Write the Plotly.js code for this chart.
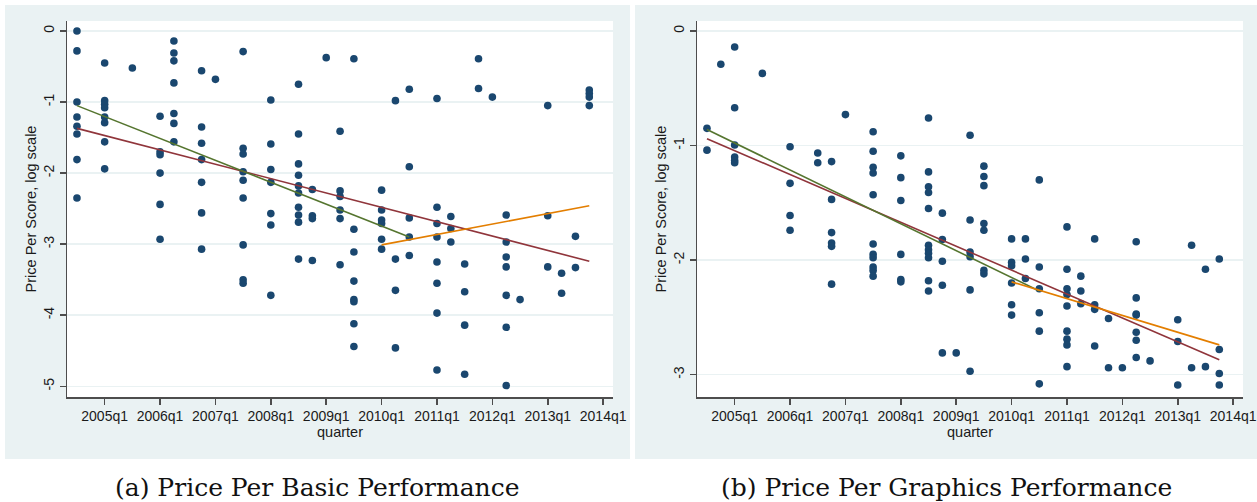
<!DOCTYPE html>
<html>
<head>
<meta charset="utf-8">
<script src="https://cdn.plot.ly/plotly-3.0.1.min.js"></script>
<style>
  html, body { margin: 0; padding: 0; background: #ffffff; }
  #chart { width: 1257px; height: 502px; }
</style>
</head>
<body>
<div id="chart"></div>
<script>
// Quarter tick labels shared by both panels
const quarterTicks = ['2005q1', '2006q1', '2007q1', '2008q1', '2009q1',
                      '2010q1', '2011q1', '2012q1', '2013q1', '2014q1'];

// (a) Price per basic performance score (log scale), grouped by quarter
const basicQuarters = ['2004q3', '2005q1', '2005q3', '2006q1', '2006q2', '2006q4',
  '2007q1', '2007q3', '2008q1', '2008q3', '2008q4', '2009q1', '2009q2', '2009q3',
  '2010q1', '2010q2', '2010q3', '2011q1', '2011q2', '2011q3', '2011q4', '2012q1',
  '2012q2', '2012q3', '2013q1', '2013q2', '2013q3', '2013q4'];
const basicValues = [
  [0.0, -0.28, -1.0, -1.21, -1.34, -1.45, -1.81, -2.35],
  [-0.45, -0.98, -1.03, -1.08, -1.21, -1.29, -1.56, -1.94],
  [-0.52],
  [-1.20, -1.70, -1.74, -2.00, -2.44, -2.93],
  [-0.14, -0.31, -0.42, -0.73, -1.16, -1.30, -1.56],
  [-0.56, -1.35, -1.58, -1.81, -2.13, -2.56, -3.07],
  [-0.68],
  [-0.29, -1.65, -1.73, -1.98, -2.10, -2.35, -3.01, -3.50, -3.55],
  [-0.97, -1.59, -1.95, -2.13, -2.57, -2.73, -3.72],
  [-0.75, -1.45, -1.87, -2.03, -2.18, -2.28, -2.48, -2.59, -2.69, -3.21],
  [-2.23, -2.60, -2.64, -3.23],
  [-0.375],
  [-1.41, -2.25, -2.33, -2.52, -2.64, -3.29],
  [-0.39, -2.79, -3.11, -3.52, -3.78, -3.81, -4.12, -4.44],
  [-2.24, -2.52, -2.66, -2.71, -2.93, -3.07],
  [-0.98, -3.21, -3.65, -4.46],
  [-0.82, -1.91, -2.63, -2.90, -3.16],
  [-0.95, -2.48, -2.71, -2.90, -3.25, -3.55, -3.97, -4.77],
  [-2.61, -2.78, -2.97],
  [-3.28, -3.67, -4.14, -4.83],
  [-0.39, -0.81],
  [-0.93],
  [-2.59, -2.97, -3.18, -3.32, -3.72, -4.17, -4.99],
  [-3.78],
  [-1.05, -2.60, -3.32],
  [-3.41, -3.69],
  [-2.89, -3.33],
  [-0.83, -0.88, -0.93, -1.05]
];

// (b) Price per graphics performance score (log scale), grouped by quarter
const graphicsQuarters = ['2004q3', '2004q4', '2005q1', '2005q3', '2006q1', '2006q3',
  '2006q4', '2007q1', '2007q3', '2008q1', '2008q3', '2008q4', '2009q1', '2009q2',
  '2009q3', '2010q1', '2010q2', '2010q3', '2011q1', '2011q2', '2011q3', '2011q4',
  '2012q1', '2012q2', '2012q3', '2013q1', '2013q2', '2013q3', '2013q4'];
const graphicsValues = [
  [-0.85, -1.04],
  [-0.29],
  [-0.14, -0.67, -0.995, -1.10, -1.13, -1.15],
  [-0.37],
  [-1.01, -1.33, -1.61, -1.74],
  [-1.065, -1.15],
  [-1.14, -1.47, -1.76, -1.85, -1.88, -2.21],
  [-0.73],
  [-0.88, -1.05, -1.19, -1.24, -1.43, -1.86, -1.95, -1.98, -2.06, -2.09, -2.14],
  [-1.09, -1.28, -1.48, -1.95, -2.17, -2.19],
  [-0.76, -1.23, -1.36, -1.41, -1.55, -1.87, -1.91, -1.94, -1.98, -2.18, -2.27],
  [-1.59, -1.82, -2.01, -2.22, -2.81],
  [-2.81],
  [-0.91, -1.65, -1.93, -1.97, -2.26, -2.97],
  [-1.18, -1.27, -1.35, -1.68, -1.74, -2.09, -2.12],
  [-1.815, -2.02, -2.05, -2.20, -2.39, -2.48],
  [-1.815, -1.99, -2.16],
  [-1.30, -2.06, -2.25, -2.46, -2.62, -3.08],
  [-1.71, -2.08, -2.25, -2.30, -2.40, -2.62, -2.69, -2.74, -2.93],
  [-2.14, -2.27, -2.38],
  [-1.815, -2.39, -2.43, -2.75],
  [-2.51, -2.94],
  [-2.94],
  [-1.84, -2.33, -2.47, -2.48, -2.63, -2.70, -2.85],
  [-2.88],
  [-2.52, -2.71, -3.09],
  [-1.87, -2.94],
  [-2.08, -2.93],
  [-1.99, -2.78, -2.99, -3.09]
];

// Linear fits: whole period, 2004q3-2010q3 and 2010q1-2013q4 (end points)
const fitAllQuarters = ['2004q3', '2013q4'];
const fitEarlyQuarters = ['2004q3', '2010q3'];
const fitLateQuarters = ['2010q1', '2013q4'];
const basicFitAll = [-1.37, -3.24];
const basicFitEarly = [-1.05, -2.90];
const basicFitLate = [-3.01, -2.46];
const graphicsFitAll = [-0.94, -2.87];
const graphicsFitEarly = [-0.86, -2.27];
const graphicsFitLate = [-2.19, -2.74];

// Stata s2color palette
const NAVY = '#1a476f', MAROON = '#90353b', FOREST = '#55752f', ORANGE = '#e37e00';
const PANEL_BG = '#eaf2f3', AXIS_COLOR = '#4d4d4d', TEXT_COLOR = '#1a1a1a';

// "2007q3" -> 2007.5
function quarterToNumber(label) {
  const parts = label.split('q');
  return Number(parts[0]) + (Number(parts[1]) - 1) / 4;
}

function expand(quarters, values) {
  const x = [], y = [];
  quarters.forEach((q, i) => values[i].forEach(v => { x.push(quarterToNumber(q)); y.push(v); }));
  return { x, y };
}

const W = 1257, H = 502;
const px = v => v / W;
const py = v => 1 - v / H;

function scatterTrace(quarters, values, xa, ya) {
  const pts = expand(quarters, values);
  return {
    type: 'scatter', mode: 'markers', x: pts.x, y: pts.y, xaxis: xa, yaxis: ya,
    marker: { color: NAVY, size: 7.6, line: { width: 0 } },
    hoverinfo: 'x+y', showlegend: false
  };
}

function fitTrace(quarters, values, color, xa, ya) {
  return {
    type: 'scatter', mode: 'lines', x: quarters.map(quarterToNumber), y: values,
    xaxis: xa, yaxis: ya, line: { color: color, width: 1.6 },
    hoverinfo: 'skip', showlegend: false
  };
}

const data = [
  scatterTrace(basicQuarters, basicValues, 'x', 'y'),
  fitTrace(fitAllQuarters, basicFitAll, MAROON, 'x', 'y'),
  fitTrace(fitEarlyQuarters, basicFitEarly, FOREST, 'x', 'y'),
  fitTrace(fitLateQuarters, basicFitLate, ORANGE, 'x', 'y'),
  scatterTrace(graphicsQuarters, graphicsValues, 'x2', 'y2'),
  fitTrace(fitAllQuarters, graphicsFitAll, MAROON, 'x2', 'y2'),
  fitTrace(fitEarlyQuarters, graphicsFitEarly, FOREST, 'x2', 'y2'),
  fitTrace(fitLateQuarters, graphicsFitLate, ORANGE, 'x2', 'y2')
];

const tickFont = { family: 'Liberation Sans, Arial, sans-serif', size: 14, color: TEXT_COLOR };
const titleFont = { family: 'Liberation Sans, Arial, sans-serif', size: 14.5, color: TEXT_COLOR };

function xAxis(domain, anchor) {
  return {
    domain: domain, anchor: anchor, range: [2004.32, 2014.178],
    tickmode: 'array', tickvals: quarterTicks.map(quarterToNumber), ticktext: quarterTicks,
    ticks: 'outside', ticklen: 6, tickwidth: 1.5, tickcolor: AXIS_COLOR,
    showline: true, linecolor: AXIS_COLOR, linewidth: 1.5,
    showgrid: false, zeroline: false, tickfont: tickFont,
    title: { text: 'quarter', font: titleFont, standoff: 2 }
  };
}

function yAxis(domain, anchor, range, ticks) {
  return {
    domain: domain, anchor: anchor, range: range,
    tickmode: 'array', tickvals: ticks, ticktext: ticks.map(String),
    tickangle: -90,
    ticks: 'outside', ticklen: 6, tickwidth: 1.5, tickcolor: AXIS_COLOR,
    showline: true, linecolor: AXIS_COLOR, linewidth: 1.5,
    showgrid: true, gridcolor: PANEL_BG, gridwidth: 1.5,
    zeroline: false, tickfont: tickFont,
    title: { text: 'Price Per Score, log scale', font: titleFont, standoff: 1 }
  };
}

const yDomain = [py(397), py(21)];

const layout = {
  width: W, height: H,
  margin: { l: 0, r: 0, t: 0, b: 0, pad: 0 },
  paper_bgcolor: '#ffffff', plot_bgcolor: '#ffffff',
  showlegend: false,
  xaxis: xAxis([px(67), px(613)], 'y'),
  yaxis: yAxis(yDomain, 'x', [-5.151, 0.141], [0, -1, -2, -3, -4, -5]),
  xaxis2: xAxis([px(697), px(1243)], 'y2'),
  yaxis2: yAxis(yDomain, 'x2', [-3.195, 0.0873], [0, -1, -2, -3]),
  shapes: [
    // graph regions
    { type: 'rect', xref: 'paper', yref: 'paper', x0: px(5), x1: px(630), y0: py(459), y1: py(5),
      fillcolor: PANEL_BG, line: { width: 0 }, layer: 'below' },
    { type: 'rect', xref: 'paper', yref: 'paper', x0: px(635), x1: px(1257), y0: py(459), y1: py(5),
      fillcolor: PANEL_BG, line: { width: 0 }, layer: 'below' },
    // plot regions
    { type: 'rect', xref: 'x domain', yref: 'y domain', x0: 0, x1: 1, y0: 0, y1: 1,
      fillcolor: '#ffffff', line: { width: 0 }, layer: 'below' },
    { type: 'rect', xref: 'x2 domain', yref: 'y2 domain', x0: 0, x1: 1, y0: 0, y1: 1,
      fillcolor: '#ffffff', line: { width: 0 }, layer: 'below' }
  ],
  annotations: [
    { text: '(a) Price Per Basic Performance', xref: 'paper', yref: 'paper',
      x: px(317), y: py(487), xanchor: 'center', yanchor: 'middle', showarrow: false,
      font: { family: 'DejaVu Serif, serif', size: 25, color: '#111111' } },
    { text: '(b) Price Per Graphics Performance', xref: 'paper', yref: 'paper',
      x: px(946), y: py(487), xanchor: 'center', yanchor: 'middle', showarrow: false,
      font: { family: 'DejaVu Serif, serif', size: 25, color: '#111111' } }
  ]
};

Plotly.newPlot('chart', data, layout, { staticPlot: true, displayModeBar: false });
</script>
</body>
</html>
